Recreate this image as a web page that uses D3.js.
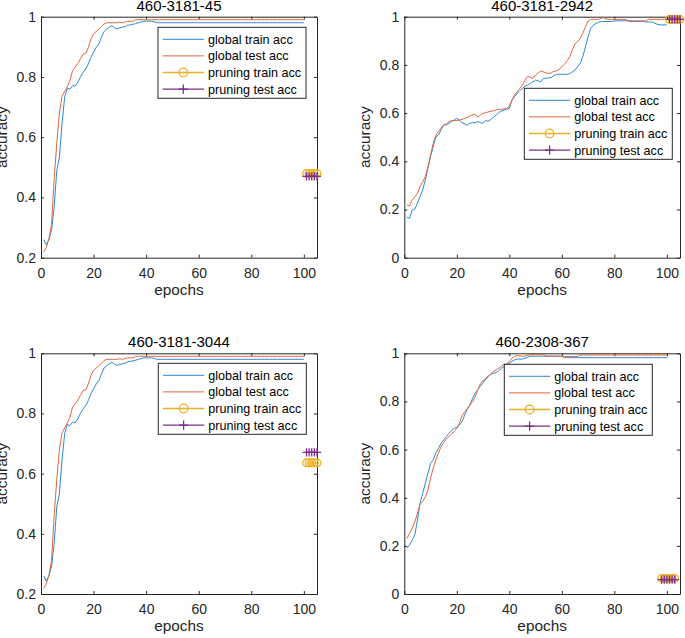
<!DOCTYPE html>
<html><head><meta charset="utf-8">
<script src="https://cdn.jsdelivr.net/npm/d3@7"></script>
<style>
html,body{margin:0;padding:0;background:#fff;}
svg{display:block;font-family:"Liberation Sans",Arial,Helvetica,sans-serif;}
</style></head>
<body>
<svg id="chart" width="685" height="638"></svg>
<script>
// ---------------- data ----------------
const titles = ["460-3181-45", "460-3181-2942", "460-3181-3044", "460-2308-367"];
const seriesNames = ["global train acc", "global test acc", "pruning train acc", "pruning test acc"];
const epochs = d3.range(1, 101);
const xTicks = [0, 20, 40, 60, 80, 100];
const yTicksA = [0.2, 0.4, 0.6, 0.8, 1];
const yTicksB = [0, 0.2, 0.4, 0.6, 0.8, 1];

// panels 1 and 3 (same global curves)
const trainA = [0.26,0.243,0.26,0.29,0.367,0.489,0.533,0.644,0.733,0.763,
  0.76,0.771,0.77,0.782,0.80,0.815,0.826,0.843,0.865,0.882,
  0.898,0.909,0.932,0.951,0.959,0.965,0.97,0.963,0.96,0.963,
  0.965,0.967,0.972,0.973,0.975,0.977,0.98,0.982,0.985,0.985,
  0.985,0.985,0.983,0.98,0.98,0.98,0.98,0.98,0.98,0.98,
  0.98,0.98,0.98,0.98,0.98,0.98,0.98,0.98,0.98,0.98,
  0.98,0.98,0.98,0.98,0.98,0.98,0.98,0.98,0.98,0.98,
  0.98,0.98,0.98,0.98,0.98,0.98,0.98,0.98,0.98,0.98,
  0.98,0.98,0.98,0.98,0.98,0.98,0.98,0.98,0.98,0.98,
  0.98,0.98,0.98,0.98,0.98,0.98,0.98,0.98,0.98,0.98];
const testA = [0.218,0.234,0.262,0.31,0.46,0.58,0.68,0.735,0.752,0.768,
  0.788,0.821,0.832,0.845,0.86,0.876,0.878,0.898,0.926,0.943,
  0.951,0.959,0.967,0.976,0.98,0.98,0.98,0.98,0.98,0.982,
  0.98,0.983,0.985,0.985,0.985,0.99,0.99,0.99,0.99,0.99,
  0.99,0.99,0.99,0.99,0.99,0.99,0.99,0.99,0.99,0.99,
  0.99,0.99,0.99,0.99,0.99,0.99,0.99,0.99,0.99,0.99,
  0.99,0.99,0.99,0.99,0.99,0.99,0.99,0.99,0.99,0.99,
  0.99,0.99,0.99,0.99,0.99,0.99,0.99,0.99,0.99,0.99,
  0.99,0.99,0.99,0.99,0.99,0.99,0.99,0.99,0.99,0.99,
  0.99,0.99,0.99,0.99,0.99,0.99,0.99,0.99,0.99,0.99];

// panel 2
const trainB = [0.168,0.163,0.198,0.202,0.226,0.253,0.281,0.322,0.371,0.419,
  0.46,0.502,0.509,0.53,0.551,0.551,0.558,0.565,0.571,0.578,
  0.571,0.56,0.555,0.55,0.558,0.56,0.56,0.565,0.56,0.558,
  0.569,0.566,0.574,0.583,0.592,0.602,0.609,0.613,0.616,0.62,
  0.654,0.668,0.682,0.693,0.703,0.712,0.716,0.723,0.73,0.737,
  0.734,0.73,0.744,0.745,0.746,0.748,0.756,0.761,0.761,0.761,
  0.761,0.761,0.764,0.771,0.778,0.792,0.806,0.834,0.876,0.917,
  0.952,0.965,0.972,0.977,0.98,0.98,0.98,0.98,0.98,0.983,
  0.983,0.983,0.983,0.983,0.983,0.98,0.98,0.98,0.98,0.98,
  0.98,0.978,0.978,0.978,0.975,0.97,0.967,0.966,0.966,0.966];
const testB = [0.219,0.215,0.239,0.253,0.267,0.295,0.315,0.336,0.378,0.426,
  0.474,0.509,0.523,0.537,0.551,0.555,0.565,0.569,0.569,0.569,
  0.571,0.574,0.578,0.583,0.588,0.592,0.595,0.583,0.592,0.599,
  0.602,0.605,0.608,0.61,0.613,0.616,0.616,0.617,0.62,0.629,
  0.654,0.675,0.689,0.703,0.716,0.737,0.753,0.748,0.744,0.758,
  0.767,0.775,0.771,0.767,0.764,0.767,0.774,0.775,0.782,0.792,
  0.803,0.817,0.834,0.862,0.887,0.896,0.91,0.931,0.959,0.982,
  0.989,0.989,0.989,0.989,0.993,0.996,0.99,0.989,0.989,0.989,
  0.989,0.989,0.989,0.989,0.985,0.983,0.983,0.983,0.983,0.983,
  0.983,0.983,0.989,0.989,0.989,0.989,0.989,0.989,0.989,0.989];

// panel 4
const trainD = [0.19,0.204,0.224,0.245,0.307,0.377,0.418,0.46,0.501,0.543,
  0.557,0.585,0.605,0.626,0.64,0.654,0.668,0.679,0.688,0.692,
  0.702,0.716,0.744,0.767,0.785,0.813,0.834,0.85,0.864,0.878,
  0.892,0.903,0.913,0.917,0.92,0.928,0.938,0.945,0.952,0.959,
  0.966,0.973,0.976,0.976,0.976,0.98,0.984,0.988,0.988,0.988,
  0.988,0.988,0.988,0.988,0.988,0.988,0.988,0.988,0.988,0.988,
  0.982,0.982,0.982,0.982,0.982,0.982,0.982,0.982,0.982,0.982,
  0.982,0.982,0.982,0.982,0.982,0.982,0.982,0.982,0.982,0.982,
  0.982,0.982,0.982,0.982,0.982,0.982,0.982,0.982,0.982,0.982,
  0.982,0.982,0.982,0.982,0.982,0.982,0.982,0.982,0.982,0.982];
const testD = [0.231,0.252,0.273,0.3,0.335,0.374,0.384,0.404,0.432,0.481,
  0.522,0.557,0.585,0.612,0.629,0.643,0.654,0.665,0.674,0.688,
  0.709,0.739,0.757,0.771,0.785,0.799,0.82,0.848,0.875,0.886,
  0.896,0.906,0.914,0.924,0.931,0.938,0.947,0.954,0.956,0.966,
  0.98,0.987,0.991,0.989,0.987,0.989,0.992,0.994,0.994,0.994,
  0.994,0.994,0.994,0.988,0.988,0.988,0.988,0.988,0.988,0.988,
  0.987,0.987,0.987,0.987,0.987,0.987,0.993,0.993,0.993,0.993,
  0.993,0.993,0.993,0.993,0.993,0.993,0.993,0.993,0.993,0.993,
  0.993,0.993,0.993,0.993,0.993,0.993,0.993,0.993,0.993,0.993,
  0.993,0.993,0.993,0.993,0.993,0.993,0.993,0.993,0.993,0.993];

// pruning points
const pruneEpochsA = [101, 102, 103, 104, 105];
const pruneEpochsD = [98, 99, 100, 101, 102, 103];
const pruneTrain1 = [0.48, 0.48, 0.48, 0.48, 0.48];
const pruneTest1  = [0.47, 0.47, 0.47, 0.47, 0.47];
const pruneTrain2 = [0.989, 0.989, 0.989, 0.989, 0.989];
const pruneTest2  = [0.989, 0.989, 0.989, 0.989, 0.989];
const pruneTrain3 = [0.636, 0.636, 0.636, 0.636, 0.636];
const pruneTest3  = [0.671, 0.671, 0.671, 0.671, 0.671];
const pruneTrain4 = [0.065, 0.065, 0.065, 0.065, 0.065, 0.065];
const pruneTest4  = [0.06, 0.06, 0.06, 0.06, 0.06, 0.06];

// ---------------- layout / style ----------------
const colors = ["#2a89d2", "#e2663a", "#EDB120", "#7E2F8E"];
const axisColor = "#262626";
const panels = [
  {title: titles[0], left: 41, top: 16.7, w: 276, h: 241, yDom: [0.2, 1], yTicks: yTicksA,
   train: trainA, test: testA, pe: pruneEpochsA, pTrain: pruneTrain1, pTest: pruneTest1, leg: [117, 10.6]},
  {title: titles[1], left: 404.3, top: 16.7, w: 275.7, h: 241, yDom: [0, 1], yTicks: yTicksB,
   train: trainB, test: testB, pe: pruneEpochsA, pTrain: pruneTrain2, pTest: pruneTest2, leg: [120, 71.6]},
  {title: titles[2], left: 41, top: 353.3, w: 276, h: 240.7, yDom: [0.2, 1], yTicks: yTicksA,
   train: trainA, test: testA, pe: pruneEpochsA, pTrain: pruneTrain3, pTest: pruneTest3, leg: [117.3, 10]},
  {title: titles[3], left: 404.3, top: 353.3, w: 275.7, h: 240.7, yDom: [0, 1], yTicks: yTicksB,
   train: trainD, test: testD, pe: pruneEpochsD, pTrain: pruneTrain4, pTest: pruneTest4, leg: [100, 11]}
];

const svg = d3.select("#chart");
const fmt = d => d === 0 ? "0" : d === 1 ? "1" : d3.format(".1f")(d);

function drawMarker(g, type, cx, cy, color, r) {
  if (type === "circle") {
    g.append("circle").attr("cx", cx).attr("cy", cy).attr("r", r)
      .attr("fill", "none").attr("stroke", color).attr("stroke-width", 1.3);
  } else {
    g.append("path").attr("d", `M${cx-r-0.3},${cy}H${cx+r+0.3}M${cx},${cy-r-0.3}V${cy+r+0.3}`)
      .attr("stroke", color).attr("stroke-width", 1.3).attr("fill", "none");
  }
}

panels.forEach(p => {
  const g = svg.append("g").attr("transform", `translate(${p.left},${p.top})`);
  const x = d3.scaleLinear().domain([0, 105]).range([0, p.w]);
  const y = d3.scaleLinear().domain(p.yDom).range([p.h, 0]);

  const cid = "clip" + Math.round(p.left) + "_" + Math.round(p.top);
  g.append("clipPath").attr("id", cid).append("rect").attr("width", p.w).attr("height", p.h);

  g.append("rect").attr("width", p.w).attr("height", p.h).attr("fill", "#fff");

  const styleAxis = sel => {
    sel.select(".domain").attr("stroke", axisColor);
    sel.selectAll(".tick line").attr("stroke", axisColor);
    sel.selectAll(".tick text").attr("fill", axisColor).attr("font-size", "14px")
      .attr("font-family", "'Liberation Sans',Arial,sans-serif");
  };
  g.append("g").attr("transform", `translate(0,${p.h})`)
    .call(d3.axisBottom(x).tickValues(xTicks).tickFormat(d3.format("d")).tickSizeInner(-3).tickSizeOuter(0).tickPadding(10.3))
    .call(styleAxis);
  g.append("g")
    .call(d3.axisTop(x).tickValues(xTicks).tickFormat("").tickSizeInner(-3).tickSizeOuter(0))
    .call(styleAxis);
  g.append("g")
    .call(d3.axisLeft(y).tickValues(p.yTicks).tickFormat(fmt).tickSizeInner(-3).tickSizeOuter(0).tickPadding(5))
    .call(styleAxis);
  g.append("g").attr("transform", `translate(${p.w},0)`)
    .call(d3.axisRight(y).tickValues(p.yTicks).tickFormat("").tickSizeInner(-3).tickSizeOuter(0))
    .call(styleAxis);

  const line = d3.line().x((d, i) => x(epochs[i])).y(d => y(d));
  const lg = g.append("g").attr("clip-path", `url(#${cid})`);
  lg.append("path").datum(p.train).attr("d", line).attr("fill", "none").attr("stroke", colors[0]).attr("stroke-width", 1);
  lg.append("path").datum(p.test).attr("d", line).attr("fill", "none").attr("stroke", colors[1]).attr("stroke-width", 1);

  const pline = d3.line().x((d, i) => x(p.pe[i])).y(d => y(d));
  g.append("path").datum(p.pTrain).attr("d", pline).attr("fill", "none").attr("stroke", colors[2]).attr("stroke-width", 1.3);
  const mg1 = g.append("g");
  p.pTrain.forEach((v, i) => drawMarker(mg1, "circle", x(p.pe[i]), y(v), colors[2], 3.8));
  g.append("path").datum(p.pTest).attr("d", pline).attr("fill", "none").attr("stroke", colors[3]).attr("stroke-width", 1.3);
  const mg2 = g.append("g");
  p.pTest.forEach((v, i) => drawMarker(mg2, "plus", x(p.pe[i]), y(v), colors[3], 3.8));

  g.append("text").attr("x", p.w / 2).attr("y", -6.2).attr("text-anchor", "middle")
    .attr("font-size", "15px").attr("fill", "#000").text(p.title);
  g.append("text").attr("x", p.w / 2).attr("y", p.h + 37).attr("text-anchor", "middle")
    .attr("font-size", "15.4px").attr("fill", axisColor).text("epochs");
  g.append("text").attr("transform", `translate(-34,${p.h / 2}) rotate(-90)`).attr("text-anchor", "middle")
    .attr("font-size", "15.4px").attr("fill", axisColor).text("accuracy");

  const lw = 148, lh = 71;
  const leg = g.append("g").attr("transform", `translate(${p.leg[0]},${p.leg[1]})`);
  leg.append("rect").attr("width", lw).attr("height", lh).attr("fill", "#fff")
    .attr("stroke", axisColor).attr("stroke-width", 1);
  seriesNames.forEach((name, i) => {
    const cy = 12 + i * 16.6;
    leg.append("line").attr("x1", 4.7).attr("x2", 46).attr("y1", cy).attr("y2", cy)
      .attr("stroke", colors[i]).attr("stroke-width", i >= 2 ? 1.3 : 1);
    if (i === 2) drawMarker(leg, "circle", 25.3, cy, colors[i], 4.3);
    if (i === 3) drawMarker(leg, "plus", 25.3, cy, colors[i], 4.3);
    leg.append("text").attr("x", 50).attr("y", cy).attr("dy", "0.35em")
      .attr("font-size", "12.6px").attr("fill", "#000").text(name);
  });
});
</script>
</body></html>
